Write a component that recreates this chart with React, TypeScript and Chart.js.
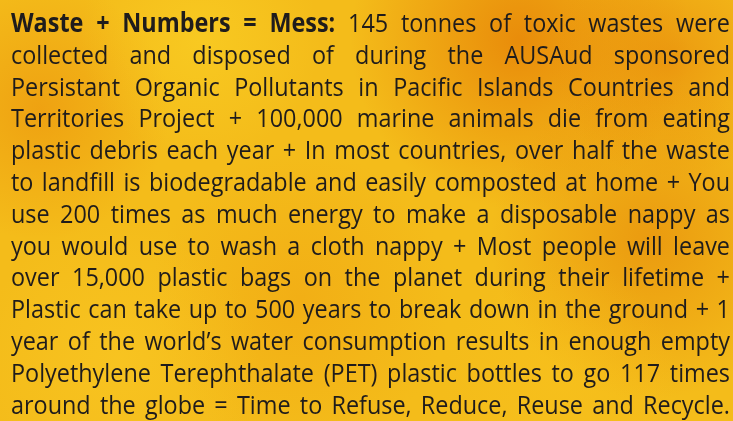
import { useEffect, useRef } from "react";
import { Chart, registerables } from "chart.js";

Chart.register(...registerables);

const BOLD_LEAD = "Waste + Numbers = Mess:";
const TEXT_LINES: string[] = [
  "Waste + Numbers = Mess: 145 tonnes of toxic wastes were",
  "collected and disposed of during the AUSAud sponsored",
  "Persistant Organic Pollutants in Pacific Islands Countries and",
  "Territories Project + 100,000 marine animals die from eating",
  "plastic debris each year + In most countries, over half the waste",
  "to landfill is biodegradable and easily composted at home + You",
  "use 200 times as much energy to make a disposable nappy as",
  "you would use to wash a cloth nappy + Most people will leave",
  "over 15,000 plastic bags on the planet during their lifetime +",
  "Plastic can take up to 500 years to break down in the ground + 1",
  "year of the world\u2019s water consumption results in enough empty",
  "Polyethylene Terephthalate (PET) plastic bottles to go 117 times",
  "around the globe = Time to Refuse, Reduce, Reuse and Recycle.",
];

const FONT_FAMILY = '"Open Sans", "Noto Sans", sans-serif';
const FONT_SIZE = 26;
const TEXT_COLOR = "#1f1c1c";

const textPlugin = {
  id: "justifiedText",
  beforeDraw(chart: any) {
    const { ctx, width, height } = chart;
    ctx.save();
    ctx.fillStyle = "#f4bc1a";
    ctx.fillRect(0, 0, width, height);
    const blobs: [number, number, number, string][] = [
      [520, 40, 170, "rgba(230,128,6,0.8)"],
      [670, 60, 120, "rgba(230,130,8,0.6)"],
      [650, 240, 160, "rgba(228,132,8,0.6)"],
      [40, 110, 130, "rgba(234,140,10,0.55)"],
      [300, 300, 150, "rgba(238,150,12,0.35)"],
      [200, 40, 120, "rgba(252,214,40,0.5)"],
      [120, 360, 140, "rgba(252,204,40,0.45)"],
      [560, 380, 120, "rgba(250,196,30,0.4)"],
    ];
    for (const [x, y, r, c] of blobs) {
      const g = ctx.createRadialGradient(x, y, 0, x, y, r);
      g.addColorStop(0, c);
      g.addColorStop(1, c.replace(/[\d.]+\)$/, "0)"));
      ctx.fillStyle = g;
      ctx.fillRect(0, 0, width, height);
    }
    ctx.restore();
  },
  afterDraw(chart: any) {
    const { ctx } = chart;
    const left = 11;
    const right = 730;
    const W = right - left;
    const firstBase = 32;
    const pitch = 31.8;
    const boldWords = BOLD_LEAD.split(" ").length;
    ctx.save();
    ctx.fillStyle = TEXT_COLOR;
    ctx.textBaseline = "alphabetic";
    ctx.textAlign = "left";
    TEXT_LINES.forEach((line, li) => {
      const words = line.split(" ");
      const fonts = words.map((_, wi) =>
        li === 0 && wi < boldWords
          ? `bold ${FONT_SIZE}px ${FONT_FAMILY}`
          : `${FONT_SIZE}px ${FONT_FAMILY}`
      );
      const widths = words.map((w, wi) => {
        ctx.font = fonts[wi];
        return ctx.measureText(w).width;
      });
      ctx.font = `${FONT_SIZE}px ${FONT_FAMILY}`;
      const minSpace = ctx.measureText(" ").width * 0.75;
      const total = widths.reduce((a, b) => a + b, 0);
      const gaps = words.length - 1;
      const scale = Math.min(0.9, (W - gaps * minSpace) / total);
      const space = (W - total * scale) / gaps;
      const y = firstBase + li * pitch;
      let x = left;
      words.forEach((w, wi) => {
        ctx.font = fonts[wi];
        ctx.save();
        ctx.translate(x, y);
        ctx.scale(scale, 1);
        ctx.fillText(w, 0, 0);
        ctx.restore();
        x += widths[wi] * scale + space;
      });
    });
    ctx.restore();
  },
};

export default function App() {
  const ref = useRef<HTMLCanvasElement | null>(null);
  useEffect(() => {
    document.body.style.margin = "0";
    if (!ref.current) return;
    const chart = new Chart(ref.current, {
      type: "bar",
      data: { labels: [], datasets: [] },
      options: {
        animation: false,
        responsive: true,
        maintainAspectRatio: false,
        events: [],
        layout: { padding: 0 },
        plugins: {
          legend: { display: false },
          title: { display: false },
          tooltip: { enabled: false },
        },
        scales: { x: { display: false }, y: { display: false } },
      },
      plugins: [textPlugin],
    });
    return () => chart.destroy();
  }, []);
  return (
    <div style={{ width: 733, height: 421, position: "relative" }}>
      <canvas ref={ref} />
    </div>
  );
}
